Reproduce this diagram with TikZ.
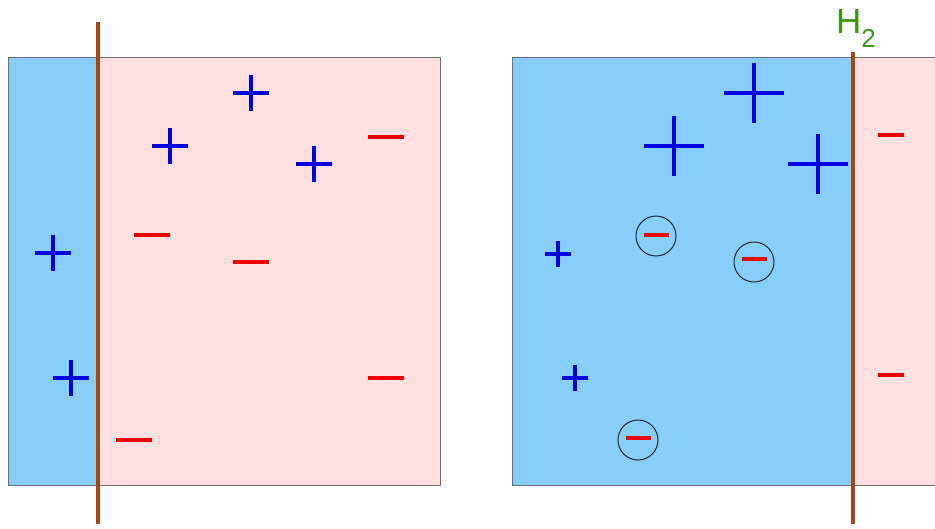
\documentclass[tikz,border=0pt]{standalone}
\usepackage{fontspec}
\setmainfont{Liberation Sans}
\definecolor{water}{RGB}{135,206,250}
\definecolor{pinkbg}{RGB}{255,224,224}
\definecolor{wire}{RGB}{165,72,22}
\definecolor{pblue}{RGB}{0,0,225}
\definecolor{mred}{RGB}{240,0,0}
\definecolor{hgreen}{RGB}{55,150,20}
\definecolor{frame}{RGB}{110,110,110}
\tikzset{
  boxline/.style={draw=frame, line width=0.9pt},
  electrode/.style={draw=wire, line width=3.4pt},
  pluss/.style={draw=pblue, line width=3.8pt},
  bigplus/.style={draw=pblue, line width=4.4pt},
  minuss/.style={draw=mred, line width=3.6pt},
  ring/.style={draw=black!85, line width=1pt},
}
\newcommand{\plusmark}[3]{\draw[pluss] (#1-#3,#2) -- (#1+#3,#2) (#1,#2-#3) -- (#1,#2+#3);}
\newcommand{\minusmark}[3]{\draw[minuss] (#1-#3,#2) -- (#1+#3,#2);}
\begin{document}
\begin{tikzpicture}[x=1pt,y=-1pt]
\useasboundingbox (0,0) rectangle (935,528);
% left panel
\fill[water] (8,57) rectangle (98,485);
\fill[pinkbg] (98,57) rectangle (440,485);
\draw[boxline] (8,57) rectangle (440,485);
\coordinate (l1) at (98,22);
\coordinate (l2) at (98,524);
\draw[electrode] (l1) -- (l2);
\plusmark{251}{93}{18}
\plusmark{170}{146}{18}
\plusmark{314}{164}{18}
\plusmark{53}{253}{18}
\plusmark{71}{378}{18}
\minusmark{386}{137}{18}
\minusmark{152}{235}{18}
\minusmark{251}{262}{18}
\minusmark{386}{378}{18}
\minusmark{134}{440}{18}
% right panel
\fill[water] (512,57) rectangle (853,485);
\fill[pinkbg] (853,57) rectangle (936,485);
\draw[boxline] (936,57) -- (512,57) -- (512,485) -- (936,485);
\coordinate (r1) at (853,52);
\coordinate (r2) at (853,524);
\draw[electrode] (r1) -- (r2);
\node[text=hgreen, font=\fontsize{35}{35}\selectfont, anchor=base west, inner sep=0pt] (h2) at (836,33) {H\raisebox{-0.42em}{\fontsize{26}{26}\selectfont 2}};
\draw[bigplus] (724,93) -- (784,93) (754,63) -- (754,123);
\draw[bigplus] (644,146) -- (704,146) (674,116) -- (674,176);
\draw[bigplus] (788,164) -- (848,164) (818,134) -- (818,194);
\plusmark{558}{254}{13}
\plusmark{575}{378}{13}
\draw[ring] (656,236) circle (20);
\minusmark{656}{235}{12.5}
\draw[ring] (754,262) circle (20);
\minusmark{754}{259}{12.5}
\draw[ring] (638,440) circle (20);
\minusmark{638}{438}{12.5}
\minusmark{891}{135}{13}
\minusmark{891}{375}{13}
\end{tikzpicture}
\end{document}
